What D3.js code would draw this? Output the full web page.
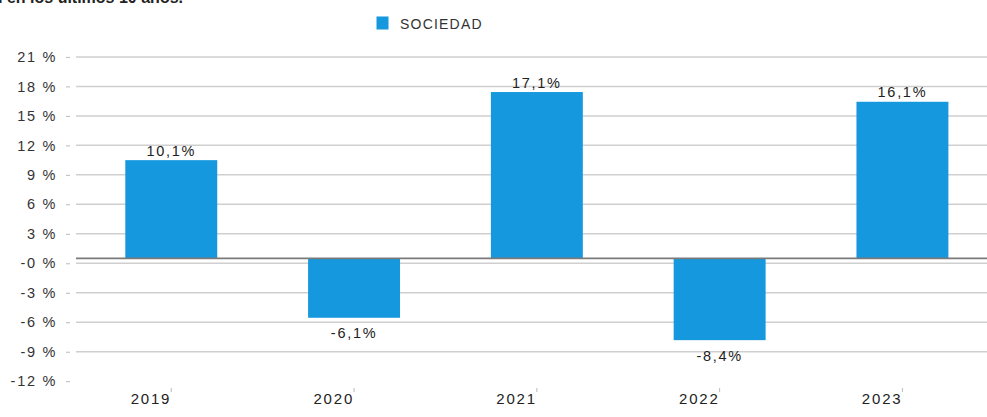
<!DOCTYPE html>
<html><head><meta charset="utf-8">
<script src="https://cdn.jsdelivr.net/npm/d3@7"></script>
<style>
html,body{margin:0;padding:0;background:#fff;overflow:hidden}
svg{display:block}
text{font-family:"Liberation Sans",Arial,sans-serif;fill:#333}
</style></head>
<body>
<svg id="c" width="987" height="417"></svg>
<script>
const categories = ["2019","2020","2021","2022","2023"];
const seriesName = "SOCIEDAD";
const values = [10.1, -6.1, 17.1, -8.4, 16.1];
const valueLabels = ["10,1%","-6,1%","17,1%","-8,4%","16,1%"];
const yTickValues = [-12.62, -9.59, -6.56, -3.53, -0.5, 2.53, 5.56, 8.59, 11.62, 14.65, 17.68, 20.71];
const yTickLabels = ["-12 %","-9 %","-6 %","-3 %","-0 %","3 %","6 %","9 %","12 %","15 %","18 %","21 %"];
const titleText = "Rentabilidad de la sociedad en los últimos 10 años.";

const svg = d3.select("#c");
const color = "#1598de";

const x = d3.scaleBand().domain(categories).range([79.6, 994.1]).paddingInner(0.497).paddingOuter(0.25);
const y = d3.scaleLinear().domain([-13, 21]).range([384.9, 54.1]);

// title (cut off at the top)
svg.append("text").attr("x", 183).attr("y", 2.5).attr("text-anchor", "end")
  .style("font-weight", "bold").style("font-size", "16px").style("fill", "#222").text(titleText);

// legend
svg.append("rect").attr("x", 376.5).attr("y", 16.5).attr("width", 12).attr("height", 13).attr("fill", color);
svg.append("text").attr("x", 400).attr("y", 29.3).style("font-size", "14px").style("letter-spacing", "1.2px").text(seriesName);

// gridlines
svg.append("g").selectAll("line").data(yTickValues.slice(1)).join("line")
  .attr("x1", 76).attr("x2", 987).attr("y1", d => y(d)).attr("y2", d => y(d))
  .attr("stroke", "#cfcfcf").attr("stroke-width", 1.5);

// y axis
const yAxis = d3.axisLeft(y).tickValues(yTickValues).tickFormat((d, i) => yTickLabels[i]).tickSize(4).tickPadding(9);
const ya = svg.append("g").attr("transform", "translate(70,0)").call(yAxis);
ya.select(".domain").remove();
ya.selectAll(".tick line").attr("stroke", "#bbb");
ya.selectAll(".tick text").style("font-size", "14.5px").style("letter-spacing", "1.7px").style("fill", "#333").attr("font-family", null);

// bars
svg.append("g").selectAll("rect").data(values).join("rect")
  .attr("x", (d, i) => x(categories[i]))
  .attr("width", x.bandwidth())
  .attr("y", d => y(Math.max(0, d)))
  .attr("height", d => Math.abs(y(d) - y(0)))
  .attr("fill", color);

// zero line
svg.append("line").attr("x1", 76).attr("x2", 987).attr("y1", y(0)).attr("y2", y(0))
  .attr("stroke", "#7a7a7a").attr("stroke-width", 1.6);

// value labels
svg.append("g").selectAll("text").data(values).join("text")
  .attr("x", (d, i) => x(categories[i]) + x.bandwidth() / 2)
  .attr("y", d => d >= 0 ? y(d) - 4.5 : y(d) + 20.5)
  .attr("text-anchor", "middle")
  .style("font-size", "14.5px").style("letter-spacing", "1.7px").style("fill", "#222")
  .text((d, i) => valueLabels[i]);

// x axis
const xAxis = d3.axisBottom(x).tickSize(4).tickSizeOuter(0);
const xa = svg.append("g").attr("transform", "translate(0,388)").call(xAxis);
xa.select(".domain").remove();
xa.selectAll(".tick line").attr("stroke", "#bbb");
xa.selectAll(".tick text").attr("text-anchor", "end").attr("y", 16).attr("dy", null)
  .style("font-size", "15px").style("letter-spacing", "1.8px").style("fill", "#222").attr("font-family", null);
</script>
</body></html>
